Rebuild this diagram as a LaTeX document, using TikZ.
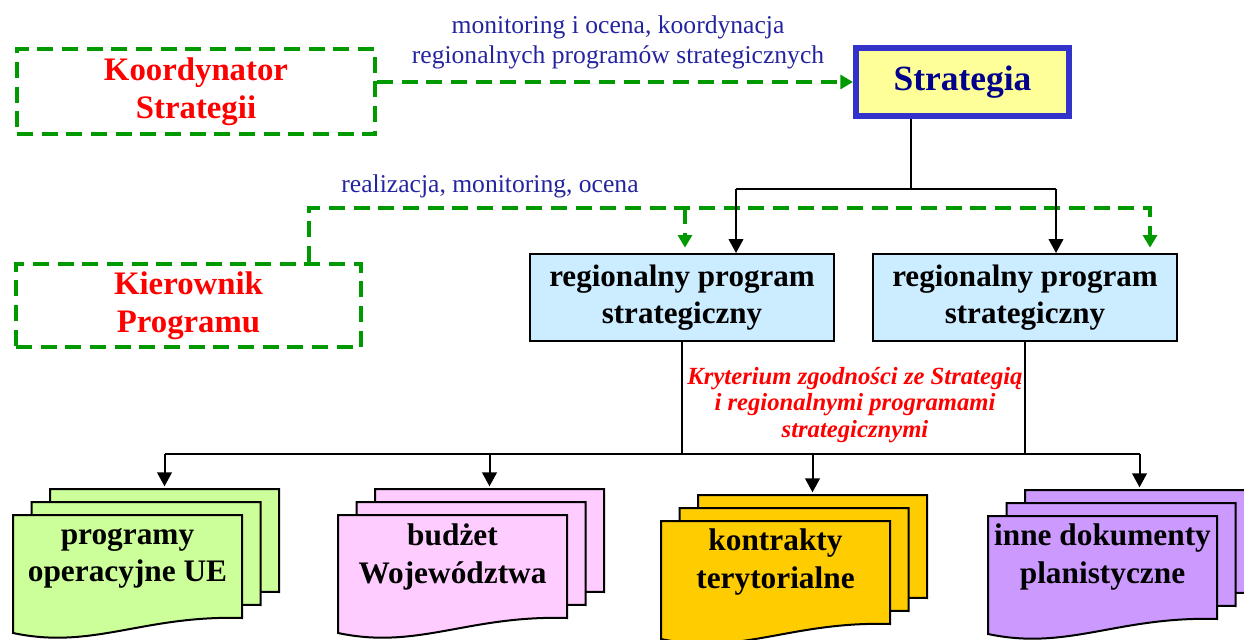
\documentclass[tikz,border=0pt]{standalone}
\usepackage{fontspec}
\setmainfont{Liberation Serif}
\usetikzlibrary{arrows.meta}

\definecolor{dashgreen}{RGB}{0,153,0}
\definecolor{stratblue}{RGB}{51,51,204}
\definecolor{stratfill}{RGB}{255,255,153}
\definecolor{stratnavy}{RGB}{0,0,140}
\definecolor{labelblue}{RGB}{36,36,160}
\definecolor{regfill}{RGB}{204,236,255}
\definecolor{docgreen}{RGB}{204,255,153}
\definecolor{docpink}{RGB}{255,204,255}
\definecolor{docgold}{RGB}{255,204,0}
\definecolor{docviolet}{RGB}{204,153,255}

\tikzset{every picture/.style={line width=0.75pt}}
\tikzset{
  rolebox/.style={draw=dashgreen, line width=3pt, dash pattern=on 12pt off 6.5pt,
    text=red, align=center, inner sep=0pt,
    font=\fontsize{24.6}{28.5}\selectfont\bfseries},
  stratbox/.style={draw=stratblue, line width=4.5pt, fill=stratfill, inner sep=0pt,
    minimum width=159.75pt, minimum height=51pt, text=stratnavy,
    font=\fontsize{26.6}{30}\selectfont\bfseries},
  regbox/.style={draw, line width=1.5pt, fill=regfill, align=center, inner sep=0pt,
    minimum width=228pt, minimum height=65.25pt,
    font=\fontsize{23.3}{27.5}\selectfont\bfseries},
  docpage/.style={draw, line width=1.5pt},
  doctext/.style={align=center, inner sep=0pt, font=\fontsize{23.5}{28}\selectfont\bfseries},
  flowlabel/.style={text=labelblue, align=center, inner sep=0pt,
    font=\fontsize{19.2}{22.5}\selectfont},
  crittext/.style={text=red, align=center, inner sep=0pt,
    font=\fontsize{18.5}{20}\selectfont\bfseries\itshape},
  greenflow/.style={draw=dashgreen, line width=3pt, dash pattern=on 12pt off 6.5pt},
  greenarrow/.style={greenflow, -{Triangle[length=9.5pt,width=10.5pt]}},
  tree/.style={line width=1.5pt},
  treearrow/.style={tree, -{Triangle[length=10.5pt,width=11pt]}}
}

\begin{document}
\begin{tikzpicture}[x=0.75pt,y=0.75pt,yscale=-1,xscale=1]
\useasboundingbox (0,0) rectangle (1244,639);

%Documents (three stacked pages each)
\foreach \fx/\fy/\col/\nm in {13/515/docgreen/ue, 338/515/docpink/budzet, 661/521/docgold/kontrakt, 988/516/docviolet/inne}{
  \foreach \k in {2,1,0}
    \draw[docpage, fill=\col, shift={(\fx+18.5*\k,\fy-13*\k)}] (0,0) -- (229,0) -- (229,103) .. controls (130,100) and (80,135) .. (0,118) -- cycle;
  \coordinate (\nm-top) at (\fx+151.5,\fy-26);
}

% Text Node
\node[doctext] (ue) at (127.5,558) {programy\\operacyjne UE};
\node[doctext] (budzet) at (452.5,557) {budżet\\Województwa};
\node[doctext] (kontrakt) at (775.5,562) {kontrakty\\terytorialne};
\node[doctext] (inne) at (1102.5,557) {inne dokumenty\\planistyczne};

%Boxes
\node[rolebox, minimum width=268.5pt, minimum height=63.75pt] (koord) at (196,91.5) {Koordynator\\Strategii};
\node[rolebox, minimum width=258.75pt, minimum height=62.25pt] (kier) at (188.5,305.5) {Kierownik\\Programu};
\node[stratbox] (strat) at (962.5,82) {Strategia};
\node[regbox] (reg1) at (682,297.5) {regionalny program\\strategiczny};
\node[regbox] (reg2) at (1025,297.5) {regionalny program\\strategiczny};

% Text Node
\node[flowlabel] (monlabel) at (618,42) {monitoring i ocena, koordynacja\\regionalnych programów strategicznych};
\node[flowlabel, anchor=base] (reallabel) at (490,192) {realizacja, monitoring, ocena};
\node[crittext] (crit) at (855,405) {Kryterium zgodności ze Strategią\\i regionalnymi programami\\strategicznymi};

%Green dashed connectors
\draw[greenarrow] (koord.east |- strat.west) -- (strat.west);
\coordinate (gknee) at (309,208);
\coordinate (gdrop) at (685,208);
\coordinate (gend) at (1150,208);
\draw[greenarrow, shorten >=4pt] (gknee |- kier.north) -- (gknee) -- (gend) -- (gend |- reg2.north);
\draw[greenarrow, shorten >=4pt] (gdrop) -- (gdrop |- reg1.north);

%Black tree from Strategia
\coordinate (split) at (911,189);
\coordinate (bl) at (736,189);
\coordinate (br) at (1056,189);
\draw[tree] (split |- strat.south) -- (split);
\draw[tree] (bl) -- (br);
\draw[treearrow] (bl) -- (bl |- reg1.north);
\draw[treearrow] (br) -- (br |- reg2.north);

%Black tree to documents
\coordinate (bus) at (0,454);
\draw[tree] (reg1.south) -- (reg1.south |- bus);
\draw[tree] (reg2.south) -- (reg2.south |- bus);
\draw[tree] (ue-top |- bus) -- (inne-top |- bus);
\foreach \nm in {ue,budzet,kontrakt,inne}
  \draw[treearrow, shorten >=2pt] (\nm-top |- bus) -- (\nm-top);

\end{tikzpicture}
\end{document}
